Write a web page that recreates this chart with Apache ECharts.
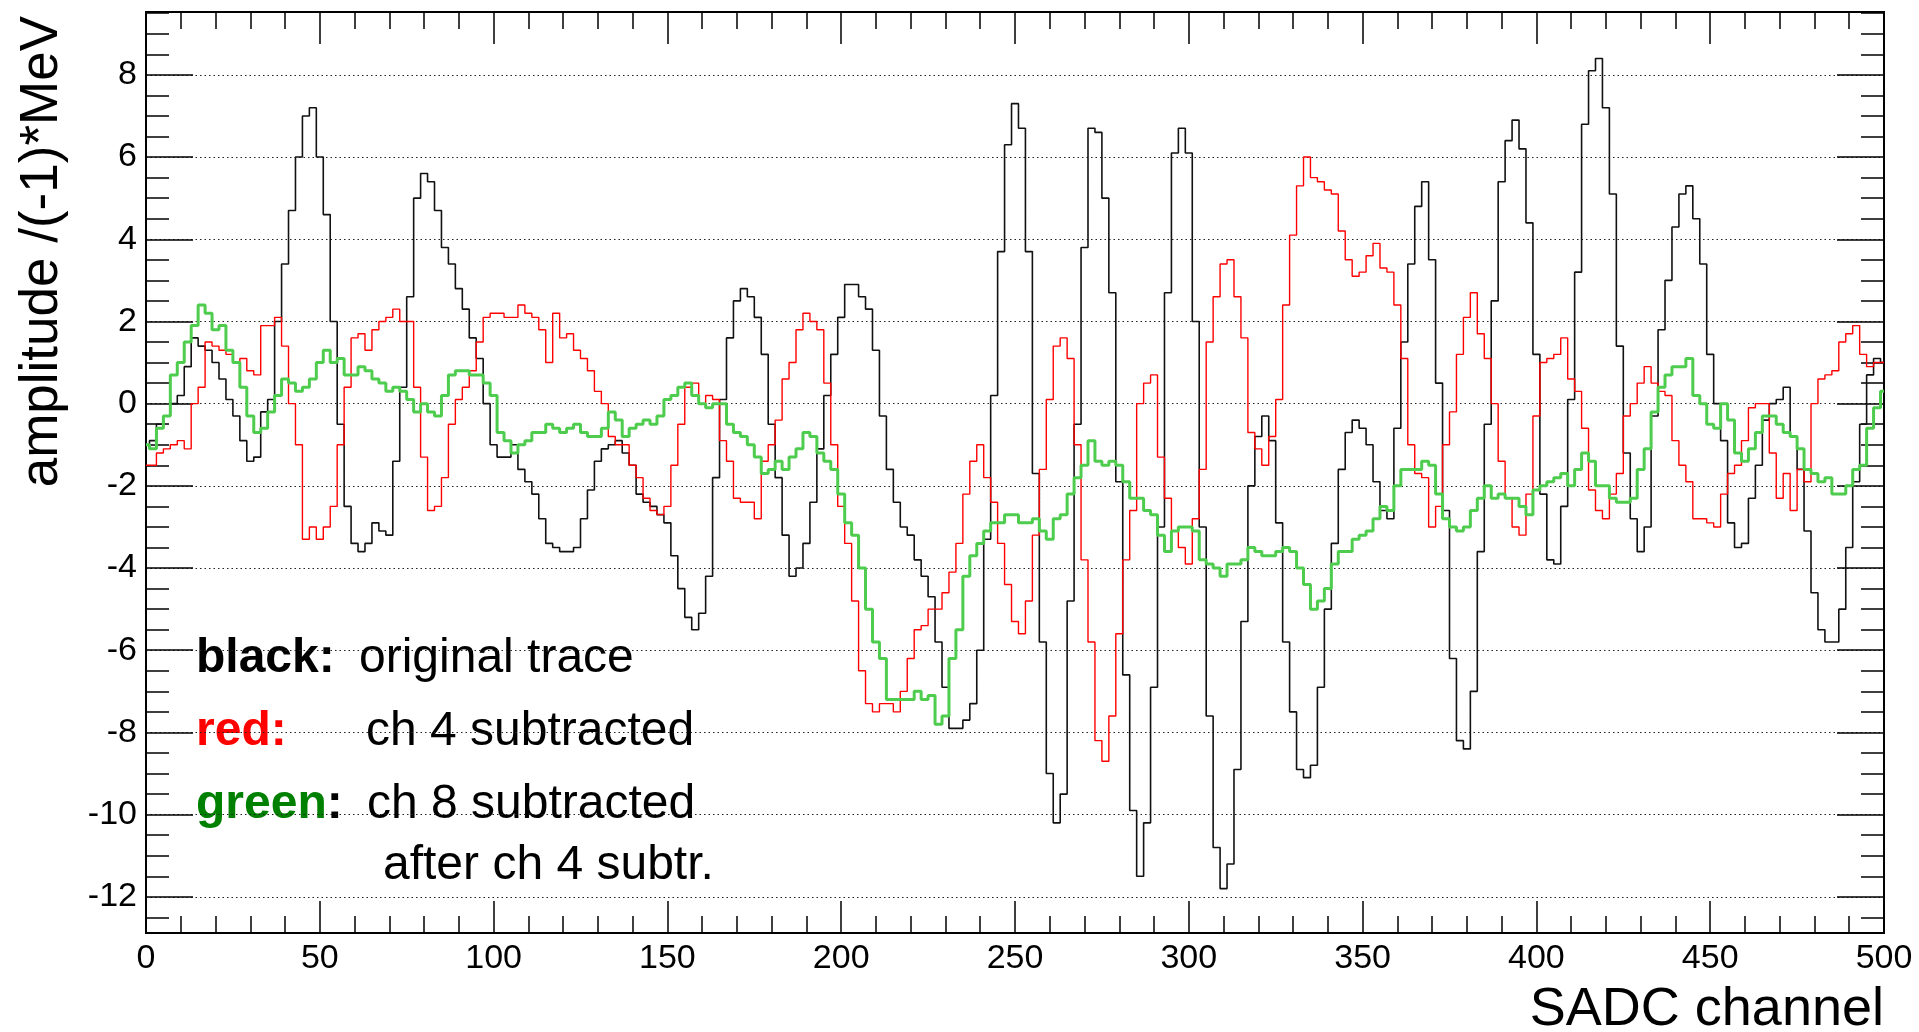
<!DOCTYPE html>
<html>
<head>
<meta charset="utf-8">
<script src="https://cdn.jsdelivr.net/npm/echarts@6/dist/echarts.min.js"></script>
<style>
html, body { margin: 0; padding: 0; background: #fff; }
#chart { width: 1919px; height: 1032px; }
</style>
</head>
<body>
<div id="chart"></div>
<script>
// one value read every 2 SADC channels, channel 0 .. 500
var binStep = 2;

var blackTrace = [
  -1.0, -0.9, -0.5, -0.3, 0.0, 0.2, 0.9, 1.6, 1.4, 1.3,
  1.0, 0.6, 0.1, -0.3, -0.9, -1.4, -1.3, -0.2, 0.1, 2.0,
  3.4, 4.7, 6.0, 7.0, 7.2, 6.0, 4.6, 2.0, -0.5, -2.5,
  -3.4, -3.6, -3.4, -2.9, -3.1, -3.2, -1.4, 0.4, 2.6, 5.0,
  5.6, 5.4, 4.7, 3.8, 3.4, 2.8, 2.3, 1.6, 1.1, 0.0,
  -1.0, -1.3, -1.3, -1.0, -1.6, -1.9, -2.2, -2.8, -3.4, -3.5,
  -3.6, -3.6, -3.5, -2.8, -2.1, -1.4, -1.1, -1.0, -0.9, -1.2,
  -1.5, -2.2, -2.4, -2.5, -2.7, -2.9, -3.7, -4.5, -5.2, -5.5,
  -5.1, -4.2, -1.8, 0.1, 1.6, 2.5, 2.8, 2.6, 2.1, 1.2,
  -0.5, -1.8, -3.2, -4.2, -4.0, -3.4, -2.4, -1.1, 0.2, 1.2,
  2.1, 2.9, 2.9, 2.6, 2.3, 1.3, -0.3, -1.6, -2.4, -3.0,
  -3.2, -3.8, -4.2, -4.7, -5.8, -6.9, -7.9, -7.9, -7.7, -7.3,
  -6.0, -3.3, 0.2, 3.7, 6.3, 7.3, 6.7, 3.7, -1.7, -5.8,
  -9.0, -10.2, -9.5, -4.8, -0.5, 3.8, 6.7, 6.6, 5.0, 2.7,
  -1.9, -6.6, -9.9, -11.5, -10.2, -6.9, -3.0, 2.7, 6.1, 6.7,
  6.1, 2.0, -3.0, -7.6, -10.8, -11.8, -11.2, -8.9, -5.3, -2.0,
  -0.8, -0.3, -0.9, -2.9, -5.8, -7.5, -8.9, -9.1, -8.8, -6.9,
  -5.0, -3.4, -1.6, -0.7, -0.4, -0.6, -1.0, -1.9, -2.6, -2.8,
  -0.6, 1.5, 3.4, 4.8, 5.4, 3.5, 0.5, -2.6, -6.2, -8.2,
  -8.4, -7.0, -3.6, -0.5, 2.5, 5.4, 6.4, 6.9, 6.2, 4.4,
  1.2, -2.2, -3.8, -3.9, -2.5, 0.1, 3.2, 6.8, 8.1, 8.4,
  7.2, 5.1, 1.4, -1.2, -2.8, -3.6, -3.0, -0.3, 1.8, 3.0,
  4.3, 5.1, 5.3, 4.5, 3.4, 1.2, 0.0, -0.9, -2.9, -3.5,
  -3.4, -2.3, -1.5, -0.4, 0.0, 0.1, 0.4, -0.8, -1.6, -3.1,
  -4.6, -5.5, -5.8, -5.8, -5.0, -3.5, -1.9, -0.5, 0.7, 1.1,
  1.0
];

var redTrace = [
  -1.5, -1.5, -1.2, -1.1, -1.0, -0.9, -1.1, 0.0, 0.4, 1.5,
  1.4, 1.3, 1.2, 1.0, 1.1, 0.8, 0.7, 1.9, 1.9, 2.1,
  1.4, 0.0, -1.0, -3.3, -3.0, -3.3, -3.0, -2.5, -1.0, 0.4,
  1.6, 1.7, 1.3, 1.8, 2.0, 2.1, 2.3, 2.0, 2.0, 0.4,
  -1.3, -2.6, -2.5, -1.8, -0.5, 0.1, 0.4, 0.8, 1.5, 2.1,
  2.2, 2.2, 2.1, 2.1, 2.4, 2.2, 2.1, 1.8, 1.0, 2.2,
  1.6, 1.7, 1.3, 1.1, 0.8, 0.3, 0.0, -0.8, -1.0, -1.0,
  -1.5, -1.8, -2.3, -2.6, -2.7, -2.5, -1.5, -0.5, 0.4, 0.5,
  0.0, 0.2, 0.1, -0.9, -1.4, -2.3, -2.4, -2.4, -2.8, -1.4,
  -1.0, -0.4, 0.6, 1.0, 1.8, 2.2, 2.0, 1.8, 0.5, -1.0,
  -2.5, -3.4, -4.8, -6.5, -7.3, -7.5, -7.3, -7.3, -7.5, -7.0,
  -6.2, -5.5, -5.4, -5.0, -5.0, -4.6, -4.1, -3.4, -2.2, -1.4,
  -1.0, -1.8, -2.4, -3.4, -4.4, -5.3, -5.6, -4.8, -3.2, -1.6,
  0.1, 1.4, 1.6, 1.1, -1.0, -3.8, -5.8, -8.2, -8.7, -7.6,
  -5.6, -3.8, -2.6, 0.0, 0.5, 0.7, -1.3, -2.3, -3.1, -3.5,
  -3.9, -2.8, -1.6, 1.5, 2.6, 3.4, 3.5, 2.6, 1.6, -0.7,
  -1.1, -1.5, -0.8, 0.1, 2.4, 4.1, 5.3, 6.0, 5.5, 5.4,
  5.2, 5.1, 4.2, 3.5, 3.1, 3.2, 3.6, 3.9, 3.3, 3.2,
  2.4, 1.1, -1.0, -1.7, -1.8, -3.0, -2.5, -1.0, -0.2, 1.2,
  2.1, 2.7, 1.7, 1.1, 0.0, -1.4, -2.3, -3.0, -3.2, -2.2,
  -0.3, 1.0, 1.1, 1.2, 1.6, 0.6, 0.3, -0.6, -2.1, -2.6,
  -2.8, -2.2, -1.7, -0.3, 0.0, 0.5, 0.9, 0.5, 0.3, 0.2,
  -0.9, -1.5, -1.9, -2.8, -2.8, -2.9, -3.0, -2.2, -1.7, -1.5,
  -0.9, -0.1, 0.0, 0.0, -1.2, -2.3, -1.7, -2.6, -1.6, -1.9,
  0.0, 0.6, 0.7, 0.8, 1.5, 1.7, 1.9, 1.2, 0.9, 1.0,
  1.0
];

var greenTrace = [
  -1.0, -1.1, -0.6, -0.3, 0.7, 1.0, 1.5, 1.9, 2.4, 2.2,
  1.8, 1.9, 1.3, 1.0, 0.4, -0.3, -0.7, -0.6, -0.2, 0.2,
  0.6, 0.5, 0.3, 0.4, 0.6, 1.0, 1.3, 1.0, 1.1, 0.7,
  0.7, 0.9, 0.8, 0.6, 0.5, 0.3, 0.4, 0.3, 0.1, -0.2,
  0.0, -0.2, -0.3, 0.2, 0.7, 0.8, 0.8, 0.7, 0.7, 0.5,
  0.2, -0.7, -0.9, -1.2, -1.0, -0.9, -0.7, -0.7, -0.5, -0.6,
  -0.7, -0.6, -0.5, -0.7, -0.8, -0.8, -0.6, -0.2, -0.4, -0.8,
  -0.6, -0.5, -0.4, -0.5, -0.3, 0.1, 0.2, 0.4, 0.5, 0.2,
  0.0, -0.1, 0.0, 0.0, -0.5, -0.7, -0.8, -1.0, -1.3, -1.7,
  -1.6, -1.4, -1.6, -1.3, -1.1, -0.7, -0.8, -1.2, -1.4, -1.6,
  -2.2, -2.9, -3.2, -4.0, -5.0, -5.8, -6.2, -7.2, -7.2, -7.2,
  -7.2, -7.0, -7.2, -7.1, -7.8, -7.6, -6.2, -5.5, -4.2, -3.7,
  -3.4, -3.1, -2.9, -2.9, -2.7, -2.7, -2.9, -2.9, -2.8, -3.1,
  -3.3, -2.8, -2.7, -2.2, -1.8, -1.5, -0.9, -1.4, -1.5, -1.4,
  -1.5, -1.9, -2.3, -2.3, -2.6, -2.7, -3.2, -3.6, -3.1, -3.0,
  -3.0, -3.1, -3.8, -3.9, -4.0, -4.2, -3.9, -3.9, -3.8, -3.5,
  -3.6, -3.7, -3.7, -3.6, -3.5, -3.6, -4.0, -4.4, -5.0, -4.8,
  -4.5, -3.9, -3.6, -3.6, -3.3, -3.2, -3.1, -2.8, -2.5, -2.6,
  -2.0, -1.6, -1.6, -1.6, -1.4, -1.5, -2.2, -2.8, -3.0, -3.1,
  -3.0, -2.6, -2.3, -2.0, -2.3, -2.2, -2.3, -2.3, -2.5, -2.7,
  -2.1, -2.0, -1.9, -1.8, -1.7, -2.0, -1.6, -1.2, -1.4, -2.0,
  -2.0, -2.3, -2.4, -2.4, -2.3, -1.6, -1.1, -0.2, 0.4, 0.7,
  0.9, 0.9, 1.1, 0.2, 0.0, -0.5, -0.6, 0.0, -0.4, -1.2,
  -1.4, -1.1, -0.7, -0.3, -0.3, -0.5, -0.7, -0.8, -1.1, -1.6,
  -1.7, -1.9, -1.8, -2.2, -2.2, -2.0, -1.6, -1.5, -0.6, -0.1,
  0.3
];

var yTickValues = [-12, -10, -8, -6, -4, -2, 0, 2, 4, 6, 8];
var yRange = [-12.88, 9.53];
var xRange = [0, 500];

var legendLines = [
  { label: 'black:', color: '#000', text: 'original trace' },
  { label: 'red:', color: '#ff0000', text: 'ch 4 subtracted' },
  { label: 'green', color: '#008000', text: 'ch 8 subtracted' }
];

var FONT = '"Liberation Sans", Arial, Helvetica, sans-serif';

function pairs(values) {
  return values.map(function (v, i) { return [i * binStep, v]; });
}

// minor ticks of the y axes every 0.5
var yMinorValues = [];
for (var t = -12.5; t <= 9.5; t += 0.5) yMinorValues.push(t);

function yAxisBox(pos, major) {
  return {
    type: 'value',
    position: pos,
    min: yRange[0],
    max: yRange[1],
    axisLine: { show: false, onZero: false },
    axisTick: {
      show: true,
      inside: true,
      length: major ? 47 : 23,
      customValues: major ? yTickValues : yMinorValues,
      lineStyle: { color: '#000', width: 1.5 }
    },
    axisLabel: {
      show: major && pos === 'left',
      customValues: yTickValues,
      margin: 9,
      color: '#000',
      fontFamily: FONT,
      fontSize: 34
    },
    splitLine: {
      show: major && pos === 'left',
      lineStyle: { color: '#222', width: 1, type: [1.5, 3] }
    }
  };
}

function xAxisBox(pos) {
  return {
    type: 'value',
    position: pos,
    min: xRange[0],
    max: xRange[1],
    interval: 50,
    axisLine: { show: false, onZero: false },
    axisTick: { show: true, inside: true, length: 32, lineStyle: { color: '#000', width: 1.5 } },
    minorTick: { show: true, splitNumber: 5, length: 17, lineStyle: { color: '#000', width: 1.5 } },
    axisLabel: {
      show: pos === 'bottom',
      margin: 9,
      color: '#000',
      fontFamily: FONT,
      fontSize: 34
    },
    splitLine: { show: false }
  };
}

function legendGraphics() {
  var els = [];
  var rowY = [659, 732, 805];
  var textX = [359, 366, 367];
  var big = '48px ' + FONT;
  legendLines.forEach(function (row, i) {
    els.push({
      type: 'text',
      x: 196,
      y: rowY[i],
      style: {
        text: row.label === 'green' ? '{g|green}{k|:}' : row.label,
        rich: {
          g: { fill: '#008000', font: 'bold ' + big },
          k: { fill: '#000', font: 'bold ' + big }
        },
        fill: row.color,
        font: 'bold ' + big,
        align: 'left',
        verticalAlign: 'middle'
      }
    });
    els.push({
      type: 'text',
      x: textX[i],
      y: rowY[i],
      style: { text: row.text, fill: '#000', font: big, align: 'left', verticalAlign: 'middle' }
    });
  });
  els.push({
    type: 'text',
    x: 383,
    y: 866,
    style: { text: 'after ch 4 subtr.', fill: '#000', font: big, align: 'left', verticalAlign: 'middle' }
  });
  // axis titles
  els.push({
    type: 'text',
    x: 42,
    y: 16,
    rotation: Math.PI / 2,
    style: { text: 'amplitude /(-1)*MeV', fill: '#000', font: '53px ' + FONT, align: 'right', verticalAlign: 'middle' }
  });
  els.push({
    type: 'text',
    x: 1884,
    y: 1010,
    style: { text: 'SADC channel', fill: '#000', font: '54px ' + FONT, align: 'right', verticalAlign: 'middle' }
  });
  return els;
}

var chart = echarts.init(document.getElementById('chart'), null, { renderer: 'canvas' });

var option = {
  animation: false,
  backgroundColor: '#fff',
  grid: {
    left: 146,
    right: 35,
    top: 12,
    bottom: 99,
    show: true,
    borderColor: '#000',
    borderWidth: 2,
    backgroundColor: 'transparent'
  },
  xAxis: [xAxisBox('bottom'), xAxisBox('top')],
  yAxis: [yAxisBox('left', true), yAxisBox('left', false), yAxisBox('right', true), yAxisBox('right', false)],
  series: [
    {
      name: 'black', type: 'line', step: 'middle', showSymbol: false, symbol: 'none',
      data: pairs(blackTrace), z: 3,
      lineStyle: { color: '#111', width: 1.6 }
    },
    {
      name: 'red', type: 'line', step: 'middle', showSymbol: false, symbol: 'none',
      data: pairs(redTrace), z: 4,
      lineStyle: { color: '#ff0000', width: 1.4 }
    },
    {
      name: 'green', type: 'line', step: 'middle', showSymbol: false, symbol: 'none',
      data: pairs(greenTrace), z: 5,
      lineStyle: { color: '#4dcc4d', width: 3 }
    }
  ],
  graphic: legendGraphics()
};

chart.setOption(option);
</script>
</body>
</html>
